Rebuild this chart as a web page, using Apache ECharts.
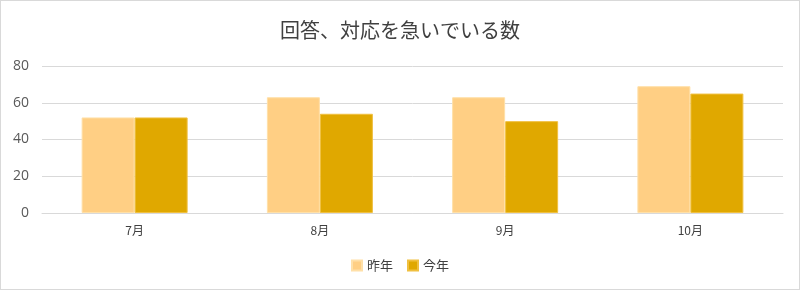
<!DOCTYPE html>
<html><head><meta charset="utf-8">
<script src="https://cdn.jsdelivr.net/npm/echarts@6/dist/echarts.min.js"></script>
<style>html,body{margin:0;padding:0;background:#fff}#c{width:798px;height:288px;border:1px solid #d9d9d9}</style>
</head><body><div id="c"></div>
<script>
const categories = ['7月','8月','9月','10月'];
const lastYear = [52, 63, 63, 69];
const thisYear = [52, 54, 50, 65];
const yTicks = [0, 20, 40, 60, 80];
const chart = echarts.init(document.getElementById('c'));
const font = '"Noto Sans CJK JP", "Noto Sans", sans-serif';
chart.setOption({
  animation: false,
  title: {text: '回答、対応を急いでいる数', left: 'center', top: 14,
    textStyle: {fontFamily: font, fontSize: 20, fontWeight: 'normal', color: '#404040'}},
  legend: {bottom: 12, itemWidth: 10, itemHeight: 10, itemGap: 14, icon: 'rect',
    textStyle: {fontFamily: font, fontSize: 13, color: '#404040'}},
  grid: {left: 41, right: 16, top: 65, bottom: 76},
  xAxis: {type: 'category', data: categories,
    axisLine: {lineStyle: {color: '#d9d9d9'}}, axisTick: {show: false},
    axisLabel: {fontFamily: font, fontSize: 12, color: '#404040', margin: 11}},
  yAxis: {type: 'value', min: yTicks[0], max: yTicks[yTicks.length-1], interval: 20,
    axisLine: {show: false}, axisTick: {show: false},
    splitLine: {lineStyle: {color: '#d9d9d9'}},
    axisLabel: {fontFamily: '"Open Sans", sans-serif', fontSize: 14, color: '#595959', margin: 13}},
  series: [
    {name: '昨年', type: 'bar', data: lastYear, barWidth: 53, barGap: '0%',
     itemStyle: {color: '#FFCF84', borderColor: '#FFE0A8', borderWidth: 1}},
    {name: '今年', type: 'bar', data: thisYear, barWidth: 53,
     itemStyle: {color: '#E0A800', borderColor: '#F0C040', borderWidth: 1}}
  ]
});
</script></body></html>
